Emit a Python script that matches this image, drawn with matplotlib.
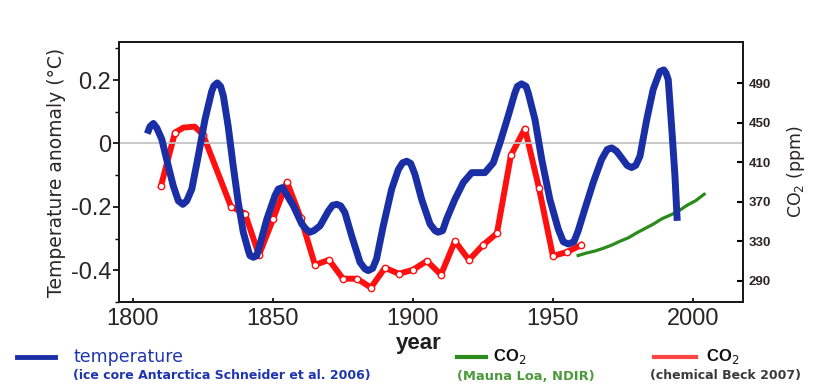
import matplotlib
matplotlib.use("Agg")
import matplotlib.pyplot as plt
from matplotlib.lines import Line2D

plt.rcParams['font.family'] = ['Liberation Sans', 'DejaVu Sans']

# ---------------- data ----------------
temp_years = [1805.1, 1806.1, 1807.3, 1808.5, 1810.3, 1812.0, 1814.4, 1816.2, 1817.8,
              1819.2, 1821.0, 1823.3, 1825.7, 1828.1, 1828.9, 1830.1, 1831.3, 1832.3,
              1834.0, 1835.8, 1837.6, 1839.4, 1841.2, 1841.8, 1843.0, 1844.2, 1845.4,
              1847.8, 1850.7, 1851.9, 1853.4, 1857.3, 1860.3, 1861.8, 1863.2, 1864.6,
              1866.8, 1869.8, 1871.3, 1872.8, 1874.2, 1875.7, 1878.1, 1881.1, 1882.9,
              1884.0, 1885.6, 1887.0, 1889.4, 1892.4, 1894.8, 1896.3, 1897.8, 1899.2,
              1900.7, 1903.1, 1906.1, 1907.9, 1909.0, 1910.6, 1912.0, 1915.0, 1918.0,
              1921.0, 1925.7, 1928.7, 1931.1, 1934.0, 1936.4, 1937.3, 1938.8, 1940.4,
              1941.2, 1943.6, 1946.0, 1948.9, 1951.9, 1953.7, 1955.5, 1957.5, 1959.0,
              1961.4, 1964.4, 1967.4, 1969.4, 1971.0, 1972.7, 1974.5, 1976.5, 1978.1,
              1979.6, 1981.1, 1983.5, 1985.8, 1988.2, 1989.6, 1990.4, 1991.2, 1992.4,
              1993.6, 1994.4]
temp_values = [0.031, 0.054, 0.063, 0.049, 0.013, -0.050, -0.134, -0.181, -0.192,
               -0.181, -0.144, -0.040, 0.075, 0.164, 0.182, 0.191, 0.180, 0.149,
               0.054, -0.071, -0.186, -0.280, -0.338, -0.354, -0.359, -0.354, -0.317,
               -0.239, -0.165, -0.144, -0.139, -0.197, -0.254, -0.270, -0.280, -0.275,
               -0.260, -0.213, -0.195, -0.192, -0.197, -0.218, -0.291, -0.375, -0.396,
               -0.401, -0.394, -0.364, -0.260, -0.144, -0.082, -0.061, -0.056, -0.063,
               -0.097, -0.176, -0.254, -0.275, -0.280, -0.275, -0.239, -0.176, -0.123,
               -0.092, -0.092, -0.061, 0.002, 0.086, 0.159, 0.180, 0.188, 0.180,
               0.159, 0.075, -0.050, -0.176, -0.270, -0.310, -0.317, -0.310, -0.276,
               -0.207, -0.123, -0.050, -0.019, -0.014, -0.024, -0.045, -0.069, -0.076,
               -0.069, -0.040, 0.075, 0.170, 0.227, 0.232, 0.222, 0.201, 0.054,
               -0.103, -0.244]

beck_years = [1810, 1815, 1818, 1822, 1825, 1835, 1840, 1845, 1850, 1855, 1860, 1865,
              1870, 1875, 1880, 1885, 1890, 1895, 1900, 1905, 1910, 1915, 1920, 1925,
              1930, 1935, 1940, 1945, 1950, 1955, 1960]
beck_ppm = [386, 440, 445, 446, 438, 365, 358, 316, 352, 390, 353, 306,
            311, 292, 292, 283, 303, 297, 301, 310, 296, 330, 311, 326,
            338, 417, 444, 384, 315, 319, 326]
beck_marked = [True, True, False, False, True, True, True, True, True, True, True, True,
               True, True, True, True, True, True, True, True, True, True, True, True,
               True, True, True, True, True, True, True]

mlo_years = [1959, 1962, 1965, 1968, 1971, 1974, 1977, 1980, 1983, 1986, 1989,
             1992, 1995, 1998, 2001, 2004]
mlo_ppm = [315.5, 318.0, 320.0, 322.8, 326.0, 330.0, 333.5, 338.5, 343.0, 347.5, 352.8,
           356.5, 360.8, 366.5, 371.0, 377.5]

temp_ticks = [-0.4, -0.2, 0, 0.2]
temp_ticklabels = ['-0.4', '-0.2', '0', '0.2']
co2_ticks = [290, 330, 370, 410, 450, 490]
year_ticks = [1800, 1850, 1900, 1950, 2000]

# ---------------- figure ----------------
W, H = 822, 390
fig = plt.figure(figsize=(W / 100, H / 100), dpi=100)
fig.patch.set_facecolor('white')

def fx(px):
    return px / W

def fy(py):
    return 1 - py / H

ax = fig.add_axes([fx(119), fy(302), (743 - 119) / W, (302 - 42) / H])
ax2 = ax.twinx()

blue = '#1a2fa6'
red = '#ff1010'
green = '#2a8a1a'
txt = '#2b2626'
wide = ['DejaVu Sans']

ax.set_xlim(1795.0, 2017.9)
ax.set_ylim(-0.496, 0.320)
ax2.set_ylim(268.4, 531.7)

ax.axhline(0, color='#c4c4c4', lw=1.3, zorder=1)

ax.plot(temp_years, temp_values, color=blue, lw=5.0, solid_capstyle='butt',
        solid_joinstyle='round', zorder=3)

mark_idx = [i for i, m in enumerate(beck_marked) if m]
ax2.plot(beck_years, beck_ppm, color=red, lw=4.3, solid_joinstyle='round',
         marker='o', markevery=mark_idx, markersize=4.6, markerfacecolor='white',
         markeredgecolor=red, markeredgewidth=1.0, zorder=2)
ax2.plot(mlo_years, mlo_ppm, color=green, lw=2.3, solid_joinstyle='round', zorder=2)

ax.set_zorder(ax2.get_zorder() + 1)
ax.patch.set_visible(False)

# ticks
ax.set_xticks(year_ticks)
ax.set_xticklabels([str(y) for y in year_ticks])
ax.set_yticks(temp_ticks)
ax.set_yticklabels(temp_ticklabels)
ax.set_yticks([-0.5, -0.3, -0.1, 0.1, 0.3], minor=True)
ax.tick_params(axis='x', direction='in', length=3, width=1.2, pad=4,
               labelsize=17, labelcolor=txt)
ax.tick_params(axis='y', which='major', direction='out', length=4, width=1.2, pad=1.5,
               labelsize=17, labelcolor=txt)
ax.tick_params(axis='y', which='minor', direction='out', length=3, width=1.0)
ax2.set_yticks(co2_ticks)
ax2.tick_params(axis='y', direction='in', length=4, width=1.5, pad=4,
                labelsize=9.5, labelcolor=txt)
for lab in ax2.get_yticklabels():
    lab.set_fontweight('bold')

for a in (ax, ax2):
    for s in a.spines.values():
        s.set_linewidth(1.4)
        s.set_color('#1a1a1a')

ax.set_ylabel('Temperature anomaly (°C)', fontsize=13.5, color=txt, family=wide)
ax.yaxis.set_label_coords(-0.085, 0.5)
ax2.set_ylabel('CO$_2$ (ppm)', fontsize=12.5, color=txt, family=wide)
ax2.yaxis.set_label_coords(1.068, 0.5)

fig.text(fx(419), fy(344), 'year', fontsize=16, fontweight='bold', color='#1e1e1e',
         ha='center', va='center')

# ---------------- legend ----------------
fig.add_artist(Line2D([fx(17), fx(55)], [fy(357), fy(357)], color=blue, lw=3.5))
fig.text(fx(73), fy(357), 'temperature', fontsize=12.5, color='#1f35b0',
         ha='left', va='center', family=wide)
fig.text(fx(73), fy(375), '(ice core Antarctica Schneider et al. 2006)', fontsize=9.0,
         color='#1f35b0', fontweight='bold', ha='left', va='center', family=wide)

fig.add_artist(Line2D([fx(457), fx(486)], [fy(357), fy(357)], color=green, lw=3.0))
fig.text(fx(493), fy(357), 'CO$_2$', fontsize=12, fontweight='bold', color='#111111',
         ha='left', va='center')
fig.text(fx(457), fy(376), '(Mauna Loa, NDIR)', fontsize=9.4, fontweight='bold',
         color='#4c9a3c', ha='left', va='center', family=wide)

fig.add_artist(Line2D([fx(654), fx(696)], [fy(357), fy(357)], color='#ff4545', lw=3.0))
fig.text(fx(706), fy(357), 'CO$_2$', fontsize=12, fontweight='bold', color='#111111',
         ha='left', va='center')
fig.text(fx(650), fy(376), '(chemical Beck 2007)', fontsize=9.0, fontweight='bold',
         color='#3a3a3a', ha='left', va='center', family=wide)

fig.savefig('out.png', dpi=100, facecolor='white')
